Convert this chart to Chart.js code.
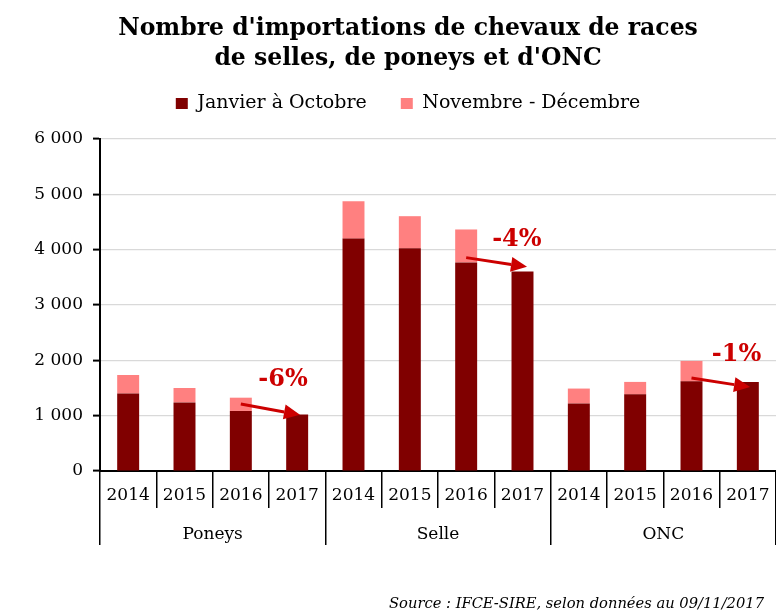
<!DOCTYPE html>
<html>
<head>
<meta charset="utf-8">
<script src="https://cdn.jsdelivr.net/npm/chart.js@4"></script>
<style>
  html, body { margin: 0; padding: 0; background: #fff; }
  #wrap { width: 776px; height: 614px; }
</style>
</head>
<body>
<div id="wrap"><canvas id="chart" width="776" height="614"></canvas></div>
<script>
const years = ['2014', '2015', '2016', '2017', '2014', '2015', '2016', '2017', '2014', '2015', '2016', '2017'];
const groups = ['Poneys', 'Selle', 'ONC'];
const janOct = [1400, 1240, 1085, 1020, 4200, 4025, 3770, 3607, 1220, 1385, 1620, 1610];
const novDec = [335, 260, 240, null, 675, 580, 595, null, 270, 225, 370, null];
const yTickLabels = ['0', '1 000', '2 000', '3 000', '4 000', '5 000', '6 000'];

// evolution arrows (2016 -> 2017, janvier à octobre)
const evoLabels = ['-6%', '-4%', '-1%'];
const evoFromIdx = [2, 6, 10];
const evoToIdx = [3.05, 7.08, 11.04];
const evoFromVal = [1210, 3856, 1680];
const evoToVal = [1015, 3690, 1517];
const evoLabelIdx = [2.75, 6.9, 10.8];
const evoLabelVal = [1650, 4187, 2103];

const SERIF = 'Georgia, "DejaVu Serif", serif';
const RED = '#cc0000';

function drawArrow(ctx, x1, y1, x2, y2) {
  const a = Math.atan2(y2 - y1, x2 - x1);
  const head = 16, half = 7.5;
  const bx = x2 - head * Math.cos(a), by = y2 - head * Math.sin(a);
  ctx.beginPath();
  ctx.moveTo(x1, y1);
  ctx.lineTo(bx, by);
  ctx.lineWidth = 3;
  ctx.strokeStyle = RED;
  ctx.stroke();
  ctx.beginPath();
  ctx.moveTo(x2, y2);
  ctx.lineTo(bx - half * Math.sin(a), by + half * Math.cos(a));
  ctx.lineTo(bx + half * Math.sin(a), by - half * Math.cos(a));
  ctx.closePath();
  ctx.fillStyle = RED;
  ctx.fill();
}

const evoPlugin = {
  id: 'evo',
  afterDatasetsDraw(chart) {
    const { ctx } = chart;
    const x = chart.scales.x, y = chart.scales.y;
    ctx.save();
    evoLabels.forEach((lbl, i) => {
      drawArrow(ctx,
        x.getPixelForValue(evoFromIdx[i]), y.getPixelForValue(evoFromVal[i]),
        x.getPixelForValue(evoToIdx[i]), y.getPixelForValue(evoToVal[i]));
      ctx.font = 'bold 24px ' + SERIF;
      ctx.fillStyle = RED;
      ctx.textAlign = 'center';
      ctx.textBaseline = 'middle';
      ctx.fillText(lbl, x.getPixelForValue(evoLabelIdx[i]), y.getPixelForValue(evoLabelVal[i]));
    });
    ctx.restore();
  }
};

// source line, bottom right
const sourcePlugin = {
  id: 'source',
  afterDraw(chart) {
    const { ctx } = chart;
    ctx.save();
    ctx.font = 'italic 14.7px ' + SERIF;
    ctx.fillStyle = '#000';
    ctx.textAlign = 'right';
    ctx.textBaseline = 'middle';
    ctx.fillText('Source : IFCE-SIRE, selon données au 09/11/2017', chart.width - 12, chart.height - 10);
    ctx.restore();
  }
};

// leave room between the legend and the plot
const legendGap = {
  id: 'legendGap',
  beforeLayout(chart) {
    const lg = chart.legend;
    if (lg && !lg._gapPatched) {
      const fit = lg.fit;
      lg.fit = function () { fit.call(this); this.height += 16; };
      lg._gapPatched = true;
    }
  }
};

new Chart(document.getElementById('chart'), {
  type: 'bar',
  data: {
    labels: years,
    datasets: [
      { label: 'Janvier à Octobre', data: janOct, backgroundColor: '#800000', xAxisID: 'x', yAxisID: 'y' },
      { label: 'Novembre - Décembre', data: novDec, backgroundColor: '#ff8080', xAxisID: 'x', yAxisID: 'y' },
    ],
  },
  options: {
    responsive: false,
    animation: false,
    layout: { padding: { left: 40, right: 0, top: 0, bottom: 69 } },
    datasets: { bar: { categoryPercentage: 1, barPercentage: 0.39, borderWidth: 0 } },
    plugins: {
      tooltip: { enabled: false },
      title: {
        display: true,
        text: ["Nombre d'importations de chevaux de races", "de selles, de poneys et d'ONC"],
        color: '#000',
        font: { family: SERIF, size: 23.5, weight: 'bold', lineHeight: 30 / 23.5 },
        padding: { top: 14, bottom: -14 },
      },
      legend: {
        position: 'top',
        labels: {
          color: '#000',
          font: { family: SERIF, size: 19 },
          boxWidth: 12,
          boxHeight: 11,
          padding: 34,
        },
      },
    },
    scales: {
      x: {
        type: 'category',
        stacked: true,
        weight: 0,
        offset: true,
        grid: { drawOnChartArea: false, offset: true, tickLength: 37, color: '#000', lineWidth: 1.5 },
        border: { display: true, color: '#000', width: 2 },
        ticks: { color: '#000', font: { family: SERIF, size: 17 }, padding: -23, maxRotation: 0, autoSkip: false },
        afterFit(s) { s.height = 37; },
      },
      x2: {
        type: 'category',
        axis: 'x',
        position: 'bottom',
        labels: groups,
        weight: 1,
        offset: true,
        grid: { drawOnChartArea: false, offset: true, tickLength: 37, color: '#000', lineWidth: 1.5 },
        border: { display: false },
        ticks: { color: '#000', font: { family: SERIF, size: 17 }, padding: -21, maxRotation: 0, autoSkip: false },
        afterFit(s) { s.height = 37; },
      },
      y: {
        stacked: true,
        min: 0,
        max: 6000,
        grid: { color: '#d9d9d9', lineWidth: 1.2, tickLength: 7, tickColor: '#000', tickWidth: 2 },
        border: { display: true, color: '#000', width: 2 },
        ticks: {
          stepSize: 1000,
          color: '#000',
          padding: 10,
          font: { family: SERIF, size: 17 },
          callback: (v, i) => yTickLabels[i],
        },
        afterFit(s) {
          s.width = 60;
          // tick labels run past the left padding; don't clip them to the axis box
          s._computeLabelArea = () => null;
        },
      },
    },
  },
  plugins: [evoPlugin, sourcePlugin, legendGap],
});
</script>
</body>
</html>
